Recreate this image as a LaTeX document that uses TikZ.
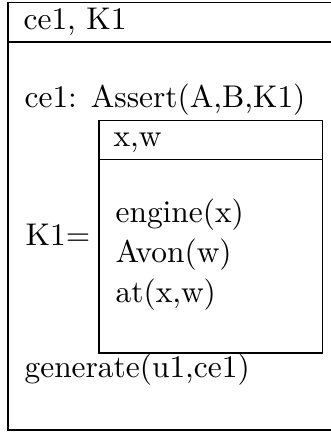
\documentclass[tikz,border=0pt]{standalone}
\begin{document}
\begin{tikzpicture}[x=0.5pt,y=-0.5pt,
  boxline/.style={line width=0.6pt},
  txt/.style={anchor=base west,inner sep=0pt,font=\fontsize{10}{12}\selectfont,scale=1.57,transform shape}]
\useasboundingbox (0,0) rectangle (331,433);
% outer box
\draw[boxline] (333,2.5) -- (8,2.5) -- (8,430) -- (333,430);
\draw[boxline] (8,42) -- (333,42);
% inner box
\draw[boxline] (99,120.5) rectangle (322.5,353);
\draw[boxline] (99,159.5) -- (322.5,159.5);
% texts
\node[txt] (hdr) at (23,29.5) {ce1, K1};
\node[txt] (assert) at (24,107) {ce1: Assert(A,B,K1)};
\node[txt] (xw) at (113,146.5) {x,w};
\node[txt] (k1) at (25,245) {K1=};
\node[txt] (eng) at (115,222) {engine(x)};
\node[txt] (avon) at (115,262) {Avon(w)};
\node[txt] (at) at (115,302) {at(x,w)};
\node[txt] (gen) at (24,377) {generate(u1,ce1)};
\end{tikzpicture}
\end{document}
